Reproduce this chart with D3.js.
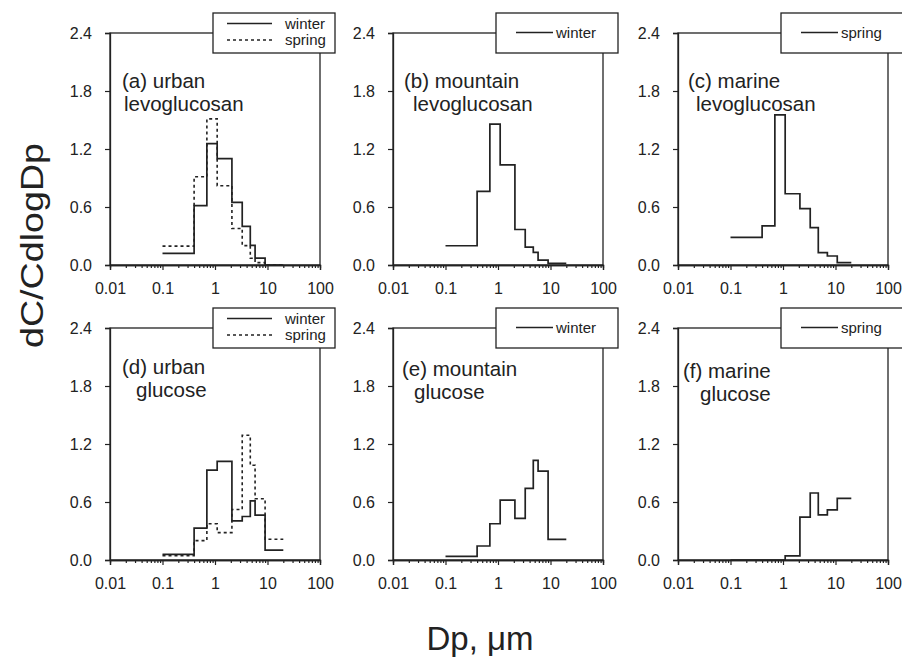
<!DOCTYPE html>
<html>
<head>
<meta charset="utf-8">
<script src="https://cdnjs.cloudflare.com/ajax/libs/d3/7.8.5/d3.min.js"></script>
<style>
  body { margin: 0; background: #fff; }
  svg { display: block; font-family: "Liberation Sans", Arial, sans-serif; }
</style>
</head>
<body>
<div id="container"></div>
<script>
// impactor cut sizes (um)
var andersenEdges = [0.1, 0.4, 0.7, 1.1, 2.1, 3.3, 4.7, 5.8, 9.0, 20];
var marineEdges = [0.1, 0.4, 0.7, 1.1, 2.1, 3.3, 4.7, 7.0, 10.8, 20];

// dC/CdlogDp per bin
var urbanLevoWinter = [0.12, 0.615, 1.255, 1.10, 0.647, 0.40, 0.203, 0.071, 0];
var urbanLevoSpring = [0.195, 0.913, 1.512, 0.82, 0.378, 0.20, 0.07, 0.025, 0];
var mountainLevoWinter = [0.199, 0.761, 1.457, 1.035, 0.367, 0.185, 0.13, 0.051, 0.017];
var marineLevoSpring = [0.285, 0.405, 1.553, 0.737, 0.583, 0.387, 0.127, 0.093, 0.024];
var urbanGluWinter = [0.058, 0.33, 0.93, 1.02, 0.405, 0.45, 0.612, 0.465, 0.103];
var urbanGluSpring = [0.045, 0.2, 0.375, 0.283, 0.523, 1.29, 0.98, 0.633, 0.215];
var mountainGluWinter = [0.038, 0.145, 0.375, 0.62, 0.43, 0.74, 1.03, 0.919, 0.213];
var marineGluSpring = [0, 0, 0, 0.042, 0.443, 0.693, 0.467, 0.518, 0.637];

var yTicks = [0, 0.6, 1.2, 1.8, 2.4];
var xTicks = [0.01, 0.1, 1, 10, 100];
var xTickLabels = ["0.01", "0.1", "1", "10", "100"];

var panels = [
  { title: ["(a) urban", "levoglucosan"], edges: andersenEdges,
    series: [{ name: "winter", values: urbanLevoWinter }, { name: "spring", values: urbanLevoSpring, dash: true }] },
  { title: ["(b) mountain", "levoglucosan"], edges: andersenEdges,
    series: [{ name: "winter", values: mountainLevoWinter }] },
  { title: ["(c) marine", "levoglucosan"], edges: marineEdges,
    series: [{ name: "spring", values: marineLevoSpring }] },
  { title: ["(d) urban", "glucose"], edges: andersenEdges,
    series: [{ name: "winter", values: urbanGluWinter }, { name: "spring", values: urbanGluSpring, dash: true }] },
  { title: ["(e) mountain", "glucose"], edges: andersenEdges,
    series: [{ name: "winter", values: mountainGluWinter }] },
  { title: ["(f) marine", "glucose"], edges: marineEdges,
    series: [{ name: "spring", values: marineGluSpring }] }
];

// layout
var W = 902, H = 666;
var colX = [110, 393, 678], rowY = [33, 328];
var plotW = 210, plotH = 232;
var titleX1 = [12, 11, 10, 12, 9, 5];
var titleX2 = [14, 20, 18, 26, 21, 22];
var titleY = [55, 55, 55, 46, 48, 50];
var ink = "#222";
var fontFamily = "'Liberation Sans', Arial, sans-serif";

var svg = d3.select("#container").append("svg")
  .attr("width", W).attr("height", H);

var x = d3.scaleLog().domain([0.01, 100]).range([0, plotW]);
var y = d3.scaleLinear().domain([0, 2.4]).range([plotH, 0]);

var minorTicks = [];
[0.01, 0.1, 1, 10].forEach(function (d){
  for (var k = 2; k <= 9; k++) minorTicks.push(d * k);
});

var line = d3.line()
  .x(function (d){ return x(d[0]); })
  .y(function (d){ return y(d[1]); })
  .curve(d3.curveStepAfter);

function stepPoints(edges, values){
  var pts = values.map(function (v, i){ return [edges[i], v]; });
  pts.push([edges[values.length], values[values.length - 1]]);
  return pts;
}

panels.forEach(function (p, i){
  var g = svg.append("g")
    .attr("transform", "translate(" + colX[i % 3] + "," + rowY[Math.floor(i / 3)] + ")");

  g.append("rect")
    .attr("width", plotW).attr("height", plotH)
    .attr("fill", "none").attr("stroke", ink).attr("stroke-width", 1.3);

  var yAxis = g.append("g")
    .call(d3.axisLeft(y).tickValues(yTicks).tickFormat(d3.format(".1f")).tickSize(5).tickPadding(13));

  var xAxis = g.append("g")
    .attr("transform", "translate(0," + plotH + ")")
    .call(d3.axisBottom(x).tickValues(xTicks)
      .tickFormat(function (d, k){ return xTickLabels[k]; })
      .tickSize(5).tickPadding(13));

  var xMinor = g.append("g")
    .attr("transform", "translate(0," + plotH + ")")
    .call(d3.axisBottom(x).tickValues(minorTicks).tickFormat("").tickSize(3));

  [yAxis, xAxis, xMinor].forEach(function (a){
    a.attr("font-size", 16).attr("font-family", fontFamily);
    a.select(".domain").attr("stroke", ink).attr("stroke-width", 1.3);
    a.selectAll(".tick line").attr("stroke", ink).attr("stroke-width", 1.2);
    a.selectAll(".tick text").attr("fill", ink);
  });

  p.series.forEach(function (s){
    g.append("path")
      .datum(stepPoints(p.edges, s.values))
      .attr("d", line)
      .attr("fill", "none")
      .attr("stroke", ink)
      .attr("stroke-width", s.dash ? 1.6 : 1.7)
      .attr("stroke-dasharray", s.dash ? "3,3" : null);
  });

  // legend
  var lg = g.append("g").attr("transform", "translate(" + (plotW - 107) + ",-20)");
  lg.append("rect")
    .attr("width", 122).attr("height", 40)
    .attr("fill", "#fff").attr("stroke", ink).attr("stroke-width", 1.3);
  var two = p.series.length > 1;
  p.series.forEach(function (s, k){
    var ly = two ? 10.5 + k * 16.5 : 19.5;
    lg.append("line")
      .attr("x1", two ? 14 : 20).attr("x2", two ? 59 : 57)
      .attr("y1", ly).attr("y2", ly)
      .attr("stroke", ink).attr("stroke-width", 1.3)
      .attr("stroke-dasharray", s.dash ? "3,3" : null);
    lg.append("text")
      .attr("x", two ? 72 : 60).attr("y", ly + 5)
      .attr("fill", ink).style("font-size", "15px")
      .text(s.name);
  });

  // panel label
  g.append("text")
    .attr("x", titleX1[i]).attr("y", titleY[i])
    .attr("fill", ink).style("font-size", "20.5px")
    .text(p.title[0]);
  g.append("text")
    .attr("x", titleX2[i]).attr("y", titleY[i] + 22.5)
    .attr("fill", ink).style("font-size", "20.5px")
    .text(p.title[1]);
});

svg.append("text")
  .attr("transform", "translate(43,245.5) rotate(-90)")
  .attr("text-anchor", "middle")
  .attr("fill", ink).style("font-size", "32px")
  .attr("textLength", 205).attr("lengthAdjust", "spacingAndGlyphs")
  .text("dC/CdlogDp");

svg.append("text")
  .attr("x", 480).attr("y", 650)
  .attr("text-anchor", "middle")
  .attr("fill", ink).style("font-size", "33px")
  .text("Dp, \u03bcm");
</script>
</body>
</html>
